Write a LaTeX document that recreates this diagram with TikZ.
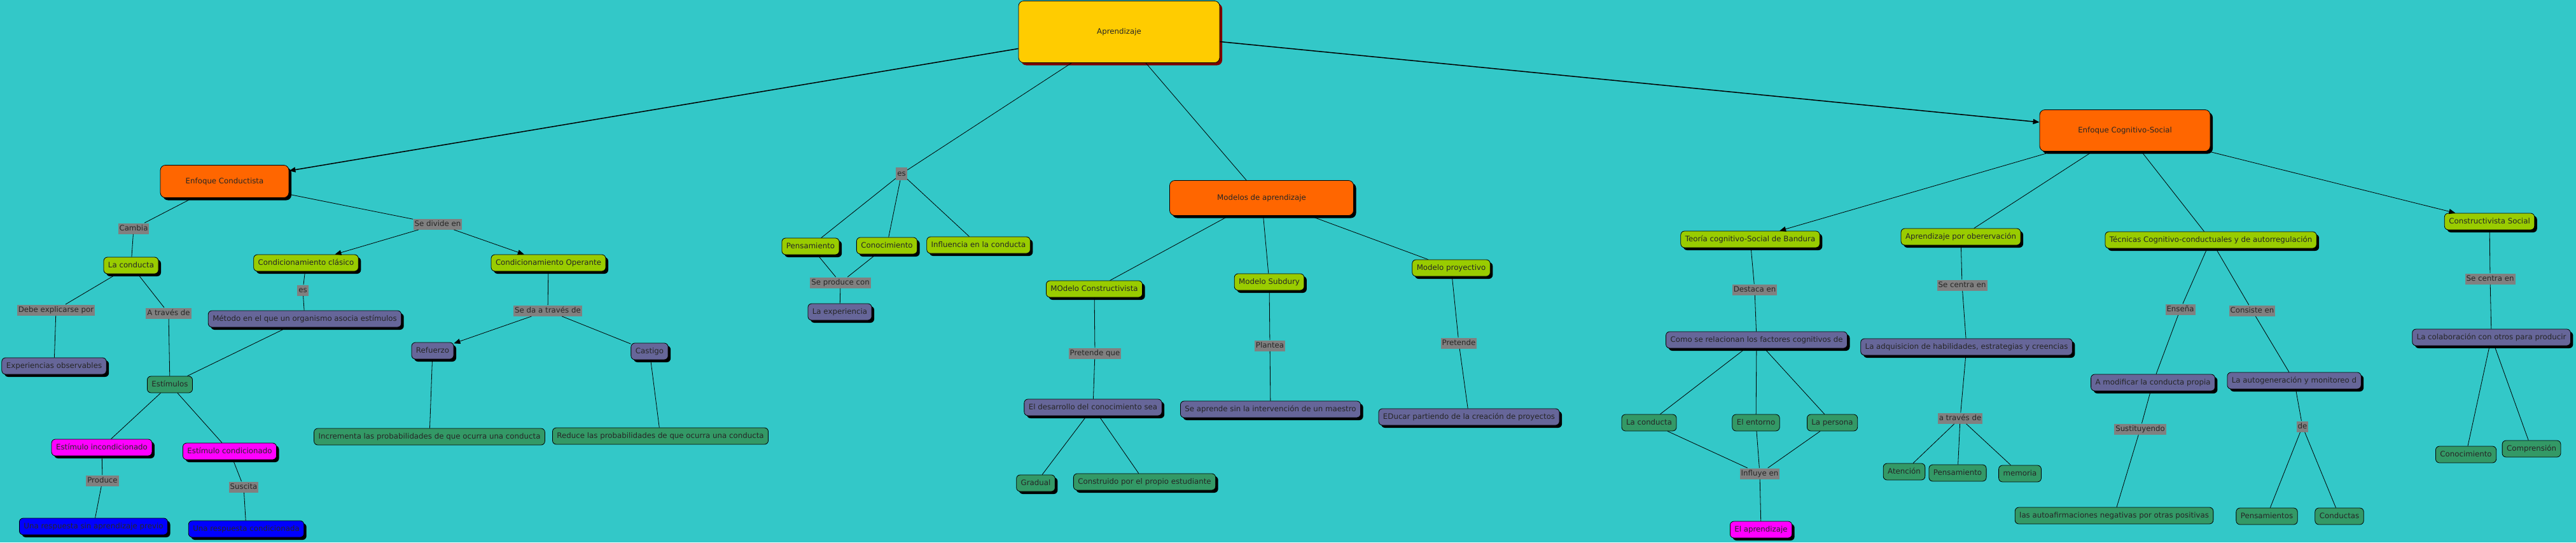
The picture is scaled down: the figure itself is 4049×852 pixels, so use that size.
\documentclass[tikz,border=0pt]{standalone}
\usepackage{fontspec}
\setmainfont{DejaVu Sans}
\usetikzlibrary{arrows.meta,shadows}
\definecolor{bgteal}{RGB}{51,200,200}
\definecolor{cmapyellow}{HTML}{FFCC00}
\definecolor{cmaporange}{HTML}{FF6600}
\definecolor{cmaplime}{HTML}{99CC00}
\definecolor{cmapslate}{HTML}{666699}
\definecolor{cmapgreen}{HTML}{339966}
\definecolor{cmappink}{HTML}{FF00FF}
\definecolor{cmapblue}{HTML}{0000FF}
\definecolor{cmapgray}{HTML}{808080}
\definecolor{cmapred}{HTML}{800000}
\begin{document}
\begin{tikzpicture}[x=1pt, y=-1pt, font=\fontsize{11.8pt}{14pt}\selectfont, line join=round,
	>={Triangle[length=10pt,width=8pt]},
	box/.style={draw=black, line width=0.8pt, rounded corners=6pt, inner xsep=7pt, inner ysep=7pt,
		text height=9pt, text depth=3pt, text=black!85},
	shade/.style={drop shadow={shadow xshift=4pt, shadow yshift=-4pt, fill=black, opacity=1}},
	topbox/.style={box, fill=cmapyellow, rounded corners=8pt, minimum width=316pt, minimum height=97pt,
		drop shadow={shadow xshift=4pt, shadow yshift=-4pt, fill=cmapred, opacity=1}},
	orangebox/.style={box, shade, fill=cmaporange, rounded corners=8pt},
	limebox/.style={box, shade, fill=cmaplime},
	slatebox/.style={box, shade, fill=cmapslate},
	greenbox/.style={box, fill=cmapgreen},
	pinkbox/.style={box, shade, fill=cmappink},
	bluebox/.style={box, shade, fill=cmapblue},
	linkword/.style={fill=cmapgray, inner xsep=2pt, inner ysep=2.5pt, text height=9pt, text depth=3pt, text=black!85},
	every path/.style={line width=0.8pt}]
	\path[use as bounding box, fill=bgteal] (0,0) rectangle (4049,852);
	% root
	\node[topbox] (apr) at (1759,50) {Aprendizaje};
	% enfoque conductista
	\node[orangebox, minimum width=202pt, minimum height=51pt] (conduct) at (353,285) {Enfoque Conductista};
	\node[linkword] (cambia) at (210,359) {Cambia};
	\node[limebox] (lacond) at (206,417) {La conducta};
	\node[linkword] (debe) at (88,487) {Debe explicarse por};
	\node[linkword] (atraves) at (265,492) {A través de};
	\node[slatebox] (exper) at (85,575) {Experiencias observables};
	\node[greenbox] (estim) at (267,604) {Estímulos};
	\node[linkword] (sediv) at (688,352) {Se divide en};
	\node[limebox] (clasico) at (481,413) {Condicionamiento clásico};
	\node[linkword] (esA) at (476,456) {es};
	\node[slatebox] (metodo) at (479,501) {Método en el que un organismo asocia estímulos};
	\node[limebox] (operante) at (862,413) {Condicionamiento Operante};
	\node[linkword] (seda) at (861,488) {Se da a través de};
	\node[slatebox] (refuerzo) at (680,551) {Refuerzo};
	\node[slatebox] (castigo) at (1021,552) {Castigo};
	\node[greenbox] (increm) at (675,686) {Incrementa las probabilidades de que ocurra una conducta};
	\node[greenbox] (reduce) at (1038,685) {Reduce las probabilidades de que ocurra una conducta};
	\node[pinkbox] (incond) at (160,703) {Estímulo incondicionado};
	\node[pinkbox] (cond) at (361,709) {Estímulo condicionado};
	\node[linkword] (produce) at (161,755) {Produce};
	\node[linkword] (suscita) at (383,765) {Suscita};
	\node[bluebox] (respsin) at (147,827) {Una respuesta sin aprendizaje previo};
	\node[bluebox] (respcond) at (387,831) {Una respuesta condicionada};
	% es / modelos
	\node[linkword, inner ysep=4pt] (esB) at (1417,273) {es};
	\node[limebox] (pensa) at (1274,387) {Pensamiento};
	\node[limebox] (conoc) at (1394,386) {Conocimiento};
	\node[limebox] (influ) at (1538,385) {Influencia en la conducta};
	\node[linkword] (seprod) at (1321,444) {Se produce con};
	\node[slatebox] (experi) at (1320,490) {La experiencia};
	\node[orangebox, minimum width=289pt, minimum height=55pt] (modelos) at (1983,311) {Modelos de aprendizaje};
	\node[limebox] (mconst) at (1720,454) {MOdelo Constructivista};
	\node[limebox] (msub) at (1995,443) {Modelo Subdury};
	\node[limebox] (mproy) at (2281,421) {Modelo proyectivo};
	\node[linkword] (pretq) at (1721,555) {Pretende que};
	\node[linkword] (plantea) at (1996,543) {Plantea};
	\node[linkword] (pretende) at (2293,539) {Pretende};
	\node[slatebox] (desarr) at (1718,640) {El desarrollo del conocimiento sea};
	\node[slatebox] (seapr) at (1997,643) {Se aprende sin la intervención de un maestro};
	\node[slatebox] (educar) at (2309,655) {EDucar partiendo de la creación de proyectos};
	\node[greenbox, shade] (gradual) at (1628,759) {Gradual};
	\node[greenbox, shade] (constr) at (1799,757) {Construido por el propio estudiante};
	% enfoque cognitivo-social
	\node[orangebox, minimum width=268pt, minimum height=65pt] (cogsoc) at (3340,205) {Enfoque Cognitivo-Social};
	\node[limebox] (bandura) at (2751,376) {Teoría cognitivo-Social de Bandura};
	\node[linkword] (destaca) at (2758,455) {Destaca en};
	\node[slatebox] (relac) at (2761,534) {Como se relacionan los factores cognitivos de};
	\node[greenbox] (condR) at (2592,664) {La conducta};
	\node[greenbox] (entorno) at (2760,664) {El entorno};
	\node[greenbox] (persona) at (2880,664) {La persona};
	\node[linkword] (influye) at (2766,744) {Influye en};
	\node[pinkbox] (elapr) at (2768,832) {El aprendizaje};
	\node[limebox] (observ) at (3082,372) {Aprendizaje por oberervación};
	\node[linkword] (centraA) at (3084,448) {Se centra en};
	\node[slatebox] (adquis) at (3091,545) {La adquisicion de habilidades, estrategias y creencias};
	\node[linkword] (atrav) at (3081,657) {a través de};
	\node[greenbox] (atenc) at (2993,741) {Atención};
	\node[greenbox] (pensR) at (3077,743) {Pensamiento};
	\node[greenbox] (memoria) at (3175,744) {memoria};
	\node[limebox] (tecnicas) at (3475,377) {Técnicas Cognitivo-conductuales y de autorregulación};
	\node[linkword] (ensena) at (3427,486) {Enseña};
	\node[linkword] (consiste) at (3540,488) {Consiste en};
	\node[slatebox] (modif) at (3384,601) {A modificar la conducta propia};
	\node[slatebox] (autogen) at (3606,598) {La autogeneración y monitoreo d};
	\node[linkword] (sustit) at (3364,674) {Sustituyendo};
	\node[linkword] (deL) at (3619,670) {de};
	\node[greenbox] (autoaf) at (3323,810) {las autoafirmaciones negativas por otras positivas};
	\node[greenbox] (pensams) at (3563,811) {Pensamientos};
	\node[greenbox] (conductas) at (3677,811) {Conductas};
	\node[limebox] (csocial) at (3913,348) {Constructivista Social};
	\node[linkword] (centraB) at (3914,438) {Se centra en};
	\node[slatebox] (colab) at (3916,530) {La colaboración con otros para producir};
	\node[greenbox] (conocR) at (3876,714) {Conocimiento};
	\node[greenbox] (compr) at (3979,705) {Comprensión};
	% links
	\draw[->, line width=1.5pt] (apr) -- (conduct);
	\draw[->, line width=1.5pt] (apr) -- (cogsoc);
	\draw (apr) -- (esB) (apr) -- (modelos);
	\draw (esB) -- (pensa) (esB) -- (conoc) (esB) -- (influ);
	\draw (conduct) -- (cambia) -- (lacond);
	\draw (lacond) -- (debe) -- (exper);
	\draw (lacond) -- (atraves) -- (estim);
	\draw (conduct) -- (sediv);
	\draw[->] (sediv) -- (clasico);
	\draw[->] (sediv) -- (operante);
	\draw (clasico) -- (esA) -- (metodo);
	\draw (metodo) -- (estim);
	\draw (estim) -- (incond) (estim) -- (cond);
	\draw (incond) -- (produce) -- (respsin);
	\draw (cond) -- (suscita) -- (respcond);
	\draw (operante) -- (seda);
	\draw[->] (seda) -- (refuerzo);
	\draw (seda) -- (castigo);
	\draw (refuerzo) -- (increm) (castigo) -- (reduce);
	\draw (pensa) -- (seprod) (conoc) -- (seprod) (seprod) -- (experi);
	\draw (modelos) -- (mconst) (modelos) -- (msub) (modelos) -- (mproy);
	\draw (mconst) -- (pretq) -- (desarr);
	\draw (desarr) -- (gradual) (desarr) -- (constr);
	\draw (msub) -- (plantea) -- (seapr);
	\draw (mproy) -- (pretende) -- (educar);
	\draw[->] (cogsoc) -- (bandura);
	\draw[->] (cogsoc) -- (csocial);
	\draw (cogsoc) -- (observ) (cogsoc) -- (tecnicas);
	\draw (bandura) -- (destaca) -- (relac);
	\draw (relac) -- (condR) (relac) -- (entorno) (relac) -- (persona);
	\draw (condR) -- (influye) (entorno) -- (influye) (persona) -- (influye) (influye) -- (elapr);
	\draw (observ) -- (centraA) -- (adquis);
	\draw (adquis) -- (atrav);
	\draw (atrav) -- (atenc) (atrav) -- (pensR) (atrav) -- (memoria);
	\draw (tecnicas) -- (ensena) -- (modif);
	\draw (tecnicas) -- (consiste) -- (autogen);
	\draw (modif) -- (sustit) -- (autoaf);
	\draw (autogen) -- (deL);
	\draw (deL) -- (pensams) (deL) -- (conductas);
	\draw (csocial) -- (centraB) -- (colab);
	\draw (colab) -- (conocR) (colab) -- (compr);
\end{tikzpicture}
\end{document}
